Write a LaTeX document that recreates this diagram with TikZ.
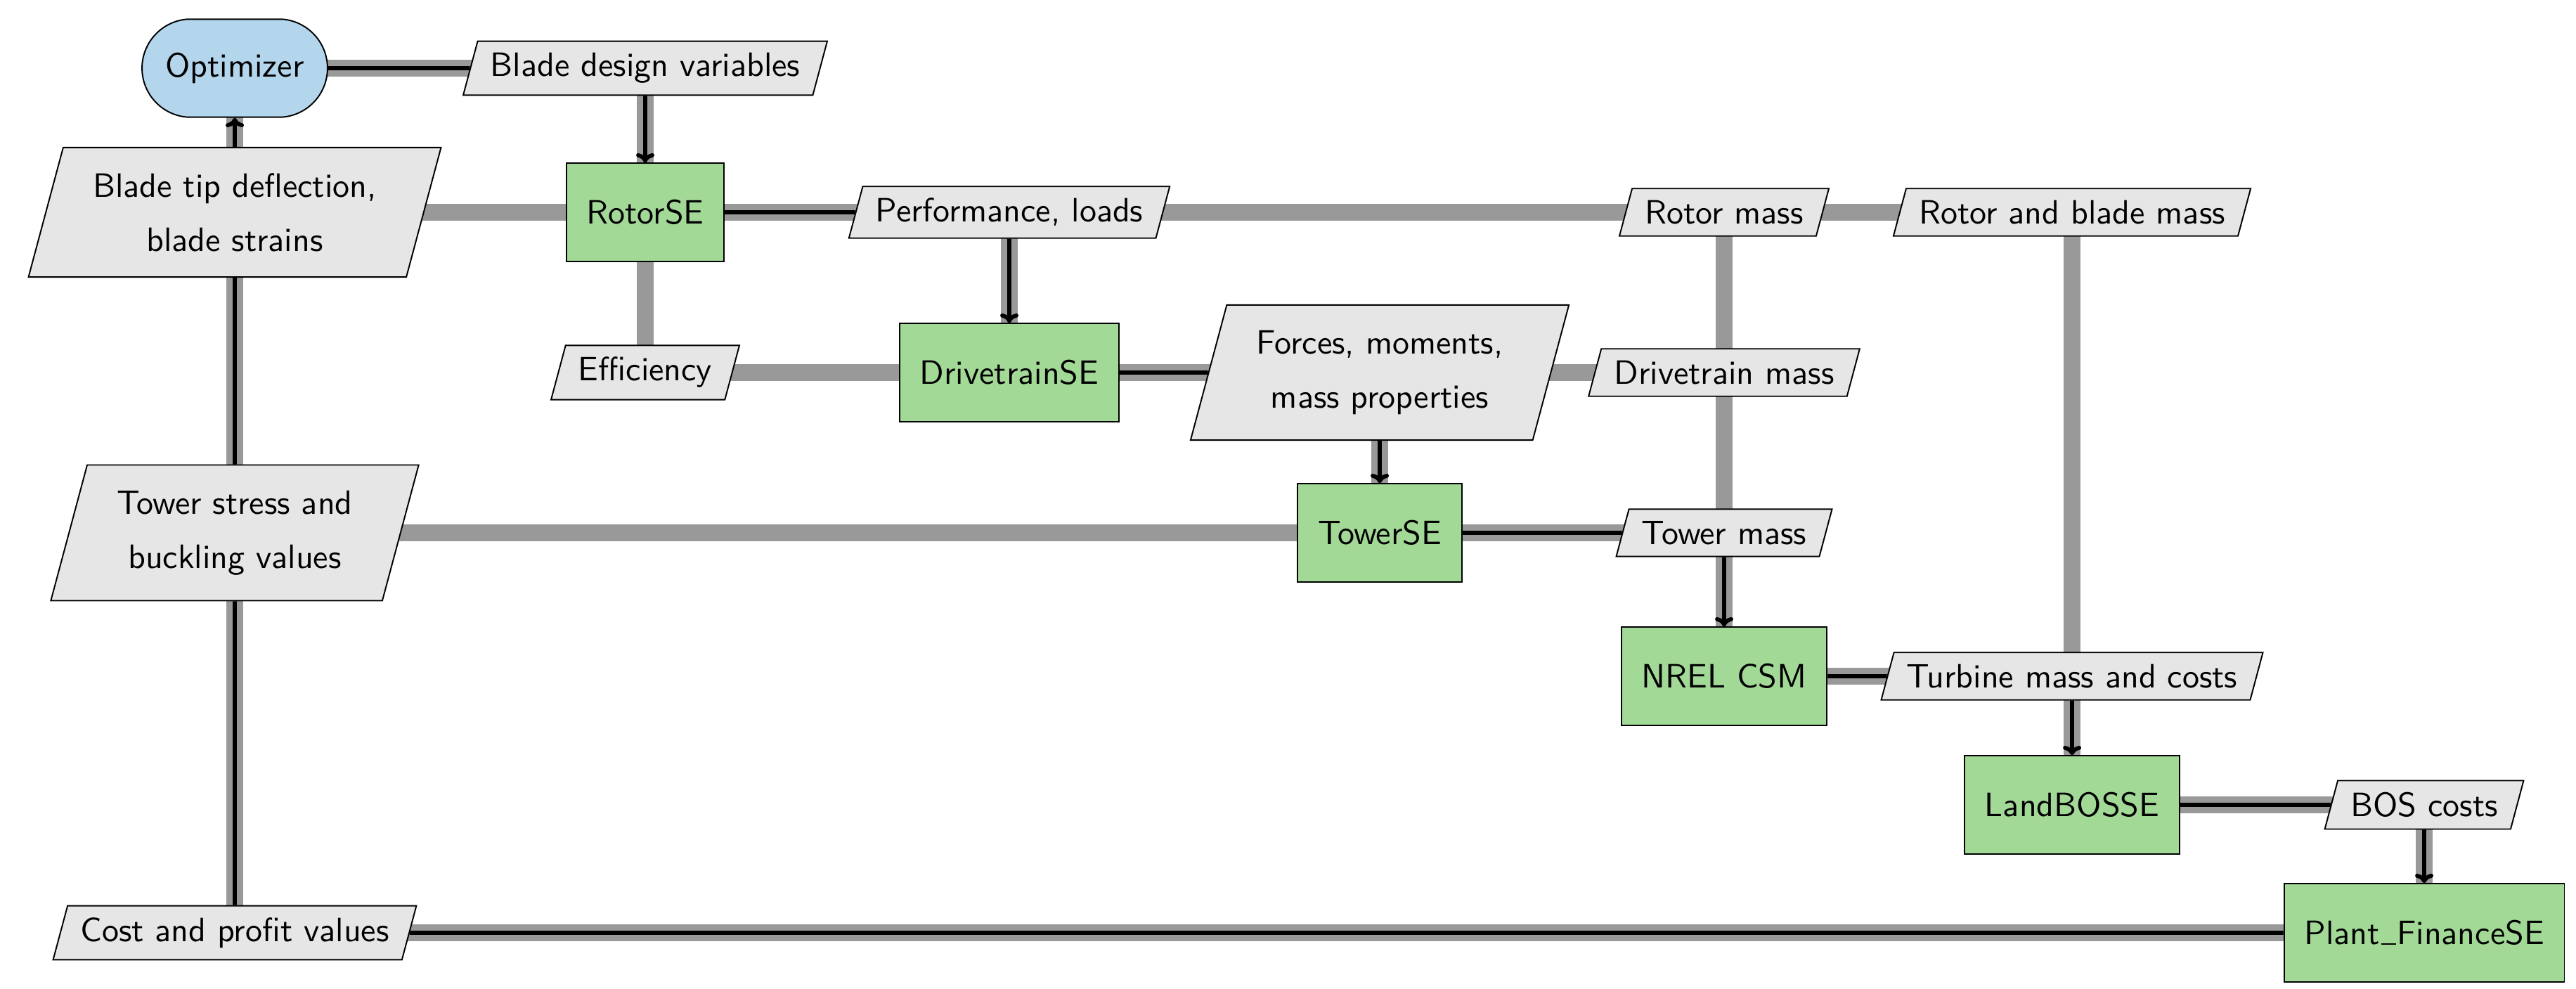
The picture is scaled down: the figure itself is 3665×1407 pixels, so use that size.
\documentclass[tikz,border=0pt]{standalone}
\usepackage{fontspec}
\usetikzlibrary{shapes.geometric,backgrounds,arrows.meta}
\definecolor{optblue}{RGB}{179,214,237}
\definecolor{funcgreen}{RGB}{163,217,151}
\definecolor{datagray}{RGB}{230,230,230}
\definecolor{linegray}{RGB}{153,153,153}
\tikzset{
  every node/.style={font=\sffamily},
  optbox/.style={rectangle, minimum width=55pt, minimum height=29pt, inner sep=0pt},
  optoutline/.style={draw=black, fill=optblue, line width=0.4pt},
  funcbox/.style={draw=black, fill=funcgreen, rectangle, minimum height=29pt,
    inner xsep=6pt, line width=0.4pt},
  databox/.style={draw=black, fill=datagray, trapezium, trapezium left angle=75,
    trapezium right angle=105, inner xsep=3.8pt, inner ysep=3.5pt, line width=0.4pt},
  datatwo/.style={databox, inner xsep=8.8pt, inner ysep=7.6pt, align=center},
  dataline/.style={draw=linegray, line width=5pt},
  procline/.style={draw=black, line width=1.2pt},
  procarrow/.style={procline, -{To[length=2.8pt,width=5.4pt]}},
}
\begin{document}
\begin{tikzpicture}[x=0.208333pt, y=-0.208333pt]
\useasboundingbox (0,0) rectangle (3665,1407);
% optimizer outline (flat top and bottom, nearly semicircular sides)
\path[optoutline] (334,97) ++(-14.2pt,14.5pt)
  arc[start angle=95, end angle=265, radius=14.555pt]
  -- ++(28.4pt,0pt)
  arc[start angle=-85, end angle=85, radius=14.555pt]
  -- cycle;
% components
\node[optbox]  (opt)     at (334,97)   {Optimizer};
\node[funcbox] (rotor)   at (918,302)  {RotorSE};
\node[funcbox] (drive)   at (1436,530) {DrivetrainSE};
\node[funcbox] (tower)   at (1963,758) {TowerSE};
\node[funcbox] (csm)     at (2453,962) {NREL CSM};
\node[funcbox] (landbos) at (2948,1145) {LandBOSSE};
\node[funcbox] (finance) at (3449,1327) {Plant\kern0.4pt\rule{4.4pt}{0.4pt}\kern0.3pt FinanceSE};
% data
\node[databox] (bdv)       at (918,97)    {Blade design variables};
\node[datatwo] (bladetip)  at (334,302)   {Blade tip deflection,\\[4pt]blade strains};
\node[databox] (perf)      at (1436,302)  {Performance, loads};
\node[databox] (rotormass) at (2453,302)  {Rotor mass};
\node[databox] (rbmass)    at (2948,302)  {Rotor and blade mass};
\node[databox] (eff)       at (918,530)   {Efficiency};
\node[datatwo] (forces)    at (1963,530)  {Forces, moments,\\[4pt]mass properties};
\node[databox] (dtmass)    at (2453,530)  {Drivetrain mass};
\node[datatwo] (twstress)  at (334,758)   {Tower stress and\\[4pt]buckling values};
\node[databox] (towermass) at (2453,758)  {Tower mass};
\node[databox] (turbine)   at (2948,962)  {Turbine mass and costs};
\node[databox] (boscost)   at (3449,1145) {BOS costs};
\node[databox] (cost)      at (334,1327)  {Cost and profit values};
\begin{pgfonlayer}{background}
  % data connections
  \draw[dataline] (opt.center) -- (bdv.center);
  \draw[dataline] (bdv.center) -- (eff.center);
  \draw[dataline] (bladetip.center) -- (rbmass.center);
  \draw[dataline] (opt.center) -- (cost.center);
  \draw[dataline] (perf.center) -- (drive.center);
  \draw[dataline] (eff.center) -- (dtmass.center);
  \draw[dataline] (forces.center) -- (tower.center);
  \draw[dataline] (rotormass.center) -- (csm.center);
  \draw[dataline] (twstress.center) -- (towermass.center);
  \draw[dataline] (rbmass.center) -- (landbos.center);
  \draw[dataline] (csm.center) -- (turbine.center);
  \draw[dataline] (landbos.center) -- (boscost.center);
  \draw[dataline] (boscost.center) -- (finance.center);
  \draw[dataline] (cost.center) -- (finance.center);
  % process chain
  \draw[procline]  (opt) -- (bdv);
  \draw[procarrow] (bdv) -- (rotor);
  \draw[procline]  (rotor) -- (perf);
  \draw[procarrow] (perf) -- (drive);
  \draw[procline]  (drive) -- (forces);
  \draw[procarrow] (forces) -- (tower);
  \draw[procline]  (tower) -- (towermass);
  \draw[procarrow] (towermass) -- (csm);
  \draw[procline]  (csm) -- (turbine);
  \draw[procarrow] (turbine) -- (landbos);
  \draw[procline]  (landbos) -- (boscost);
  \draw[procarrow] (boscost) -- (finance);
  \draw[procline]  (finance) -- (cost);
  \draw[procline]  (cost) -- (twstress);
  \draw[procline]  (twstress) -- (bladetip);
  \draw[procarrow] (bladetip) -- (opt);
\end{pgfonlayer}
\end{tikzpicture}
\end{document}
